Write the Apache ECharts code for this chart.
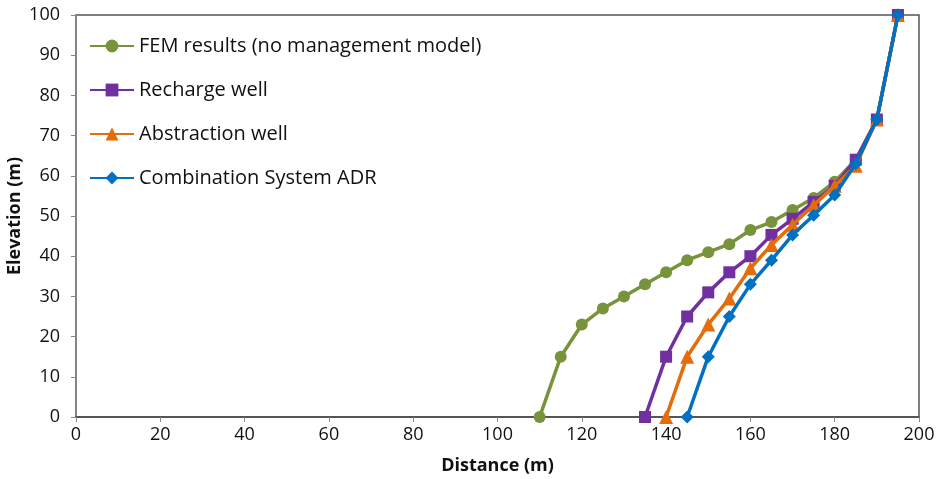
<!DOCTYPE html>
<html><head><meta charset="utf-8">
<script src="https://cdn.jsdelivr.net/npm/echarts@6/dist/echarts.min.js"></script>
<style>html,body{margin:0;padding:0;background:#fff}#c{width:938px;height:479px}</style>
</head><body><div id="c"></div>
<script>
const seriesNames = ['FEM results (no management model)', 'Recharge well', 'Abstraction well', 'Combination System ADR'];
const femX = [110,115,120,125,130,135,140,145,150,155,160,165,170,175,180,185,190,195];
const femY = [0,15,23,27,30,33,36,39,41,43,46.5,48.5,51.5,54.5,58.5,64,74,100];
const rechX = [135,140,145,150,155,160,165,170,175,180,185,190,195];
const rechY = [0,15,25,31,36,40,45.3,49.3,53.5,57.5,64,74,100];
const abstX = [140,145,150,155,160,165,170,175,180,185,190,195];
const abstY = [0,15,23,29.5,37,42.8,47.8,52.7,57.5,62.5,74,100];
const combX = [145,150,155,160,165,170,175,180,185,190,195];
const combY = [0,15,25,33,39,45.3,50.2,55.2,63,74,100];
const xTicks = [0,20,40,60,80,100,120,140,160,180,200];
const yTicks = [0,10,20,30,40,50,60,70,80,90,100];

const colors = ['#77933c', '#7030a0', '#e46c0a', '#0070c0'];
const symbols = ['circle', 'rect', 'triangle', 'diamond'];
const sizes = [12, 12, 14, 13];
const xs = [femX, rechX, abstX, combX];
const ys = [femY, rechY, abstY, combY];

const chart = echarts.init(document.getElementById('c'));
chart.setOption({
  animation: false,
  grid: {left: 76, right: 19, top: 15, bottom: 62, show: true, borderColor: '#555', borderWidth: 1.5,
         containLabel: false, outerBoundsMode: 'none'},
  legend: {
    orient: 'vertical', left: 84, top: 31,
    itemWidth: 44, itemHeight: 16, itemGap: 24,
    textStyle: {fontFamily: 'Open Sans', fontSize: 20, color: '#111'},
    data: seriesNames
  },
  xAxis: {
    type: 'value', min: 0, max: 200, interval: 20,
    name: 'Distance (m)', nameLocation: 'middle', nameGap: 40,
    nameTextStyle: {fontFamily: 'Open Sans', fontWeight: 'bold', fontSize: 18, color: '#111'},
    axisLine: {show: true, lineStyle: {color: '#555', width: 2}},
    axisTick: {show: true, length: 5, lineStyle: {color: '#888'}},
    splitLine: {show: false},
    axisLabel: {fontFamily: 'Open Sans', fontSize: 18, color: '#111', margin: 9,
      formatter: v => xTicks.includes(v) ? String(v) : ''}
  },
  yAxis: {
    type: 'value', min: 0, max: 100, interval: 10,
    name: 'Elevation (m)', nameLocation: 'middle', nameGap: 52, nameMoveOverlap: false,
    nameTextStyle: {fontFamily: 'Open Sans', fontWeight: 'bold', fontSize: 18, color: '#111'},
    axisLine: {show: true, lineStyle: {color: '#888', width: 1}},
    axisTick: {show: true, length: 5, lineStyle: {color: '#888'}},
    splitLine: {show: false},
    axisLabel: {fontFamily: 'Open Sans', fontSize: 18, color: '#111', margin: 16,
      formatter: v => yTicks.includes(v) ? String(v) : ''}
  },
  series: seriesNames.map((n, i) => ({
    name: n, type: 'line',
    data: xs[i].map((x, j) => [x, ys[i][j]]),
    symbol: symbols[i], symbolSize: sizes[i],
    lineStyle: {color: colors[i], width: 3.5},
    itemStyle: {color: colors[i]},
    z: 2 + i
  }))
});
</script></body></html>
